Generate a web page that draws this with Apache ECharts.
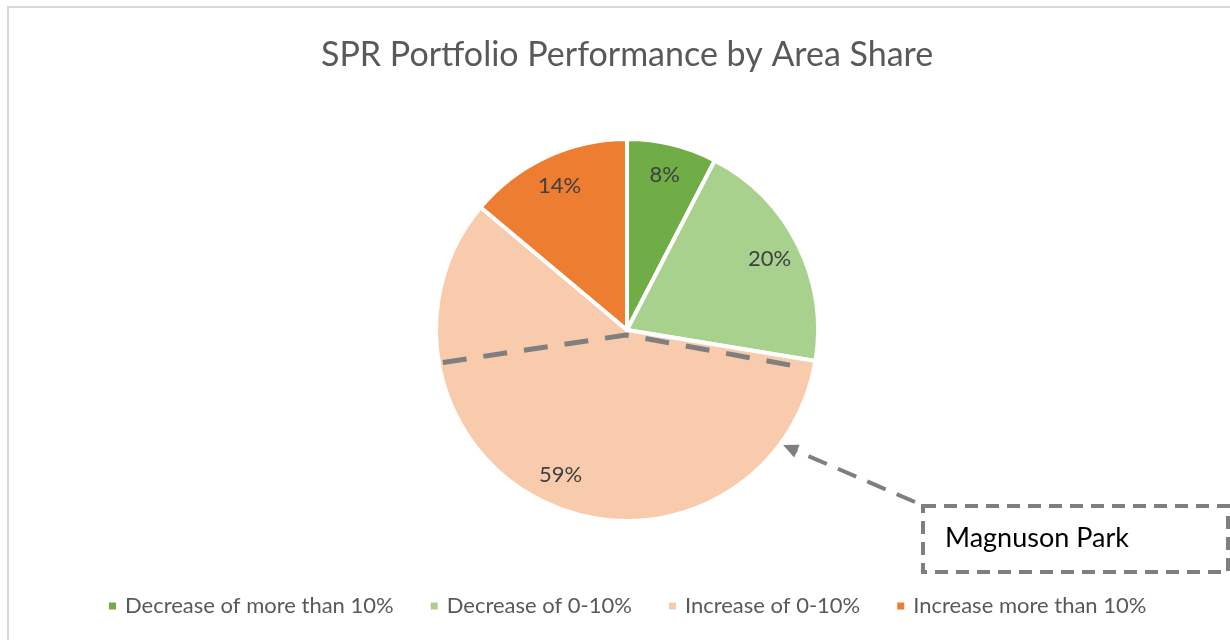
<!DOCTYPE html>
<html lang="en" style="height: 100%">
<head>
  <meta charset="utf-8">
</head>
<body style="height: 100%; margin: 0; background: #fff">
  <div id="container" style="width: 1230px; height: 640px"></div>

  <script type="text/javascript" src="https://cdn.jsdelivr.net/npm/echarts@6/dist/echarts.min.js"></script>

  <script type="text/javascript">
    var dom = document.getElementById('container');
    var myChart = echarts.init(dom, null, { renderer: 'canvas' });

    // data (percent of area)
    const categories = ['Decrease of more than 10%', 'Decrease of 0-10%', 'Increase of 0-10%', 'Increase more than 10%'];
    const shares = [7.6, 20.0, 58.5, 13.9];
    const colors = ['#70ad47', '#a9d18e', '#f8cbad', '#ed7d31'];

    const CX = 627, CY = 330, R = 191;
    const FONT = 'Lato';

    // point on the pie at a clockwise angle from 12 o'clock
    function onPie(deg, r) {
      const a = deg * Math.PI / 180;
      return [CX + r * Math.sin(a), CY - r * Math.cos(a)];
    }

    // dashed split line across the peach slice
    const splitPts = [onPie(260, 187), [CX - 1, CY + 5], onPie(102, 182)];

    // arrow from callout box to pie edge
    const arrowFrom = [915, 502];
    const arrowTip = onPie(126.4, 194);
    const dx = arrowTip[0] - arrowFrom[0], dy = arrowTip[1] - arrowFrom[1];
    const len = Math.sqrt(dx * dx + dy * dy);
    const ux = dx / len, uy = dy / len;
    const headLen = 15, headW = 7;
    const base = [arrowTip[0] - ux * headLen, arrowTip[1] - uy * headLen];
    const head = [
      arrowTip,
      [base[0] - uy * headW, base[1] + ux * headW],
      [base[0] + uy * headW, base[1] - ux * headW]
    ];

    const pieData = categories.map(function (name, i) {
      return { name: name, value: shares[i], itemStyle: { color: colors[i] } };
    });

    var option = {
      animation: false,
      title: {
        text: 'SPR Portfolio Performance by Area Share',
        left: 316,
        top: 33,
        textStyle: { fontFamily: FONT, fontSize: 34, fontWeight: 'normal', color: '#595959' }
      },
      legend: {
        data: categories,
        left: 102,
        top: 590,
        icon: 'rect',
        itemWidth: 9,
        itemHeight: 9,
        itemGap: 35,
        textStyle: { fontFamily: FONT, fontSize: 22, color: '#595959', padding: [0, 0, 0, 3] }
      },
      series: [
        {
          type: 'pie',
          center: [CX, CY],
          radius: R,
          startAngle: 90,
          clockwise: true,
          label: { show: false },
          labelLine: { show: false },
          itemStyle: { borderColor: '#fff', borderWidth: 4 },
          data: pieData
        },
        {
          // label ring so the percentages sit near the rim like the original
          type: 'pie',
          center: [CX, CY],
          radius: [Math.round(R * 0.64), R],
          startAngle: 90,
          clockwise: true,
          silent: true,
          legendHoverLink: false,
          itemStyle: { color: 'rgba(0,0,0,0)', borderWidth: 0 },
          label: {
            show: true,
            position: 'inside',
            fontFamily: FONT,
            fontSize: 22,
            color: '#404040',
            formatter: function (p) { return Math.round(p.value) + '%'; }
          },
          labelLine: { show: false },
          data: categories.map(function (name, i) {
            return { name: name + ' ', value: shares[i] };
          })
        }
      ],
      graphic: {
        elements: [
          {
            type: 'rect',
            shape: { x: 8, y: 7, width: 1240, height: 700 },
            style: { fill: 'none', stroke: '#d9d9d9', lineWidth: 2 },
            z: 0
          },
          {
            type: 'polyline',
            shape: { points: splitPts },
            style: { fill: 'none', stroke: '#7f7f7f', lineWidth: 5, lineDash: [24, 17] },
            z: 100
          },
          {
            type: 'line',
            shape: { x1: arrowFrom[0], y1: arrowFrom[1], x2: base[0], y2: base[1] },
            style: { stroke: '#7f7f7f', lineWidth: 4, lineDash: [20, 12] },
            z: 100
          },
          {
            type: 'polygon',
            shape: { points: head },
            style: { fill: '#7f7f7f' },
            z: 100
          },
          {
            type: 'rect',
            shape: { x: 923, y: 506, width: 305, height: 66 },
            style: { fill: '#fff', stroke: '#7f7f7f', lineWidth: 4, lineDash: [13, 8] },
            z: 100
          },
          {
            type: 'text',
            x: 945,
            y: 538,
            style: {
              text: 'Magnuson Park',
              fontFamily: FONT,
              fontSize: 27,
              fill: '#000',
              textVerticalAlign: 'middle'
            },
            z: 101
          }
        ]
      }
    };

    myChart.setOption(option);
    window.addEventListener('resize', myChart.resize);
  </script>
</body>
</html>
